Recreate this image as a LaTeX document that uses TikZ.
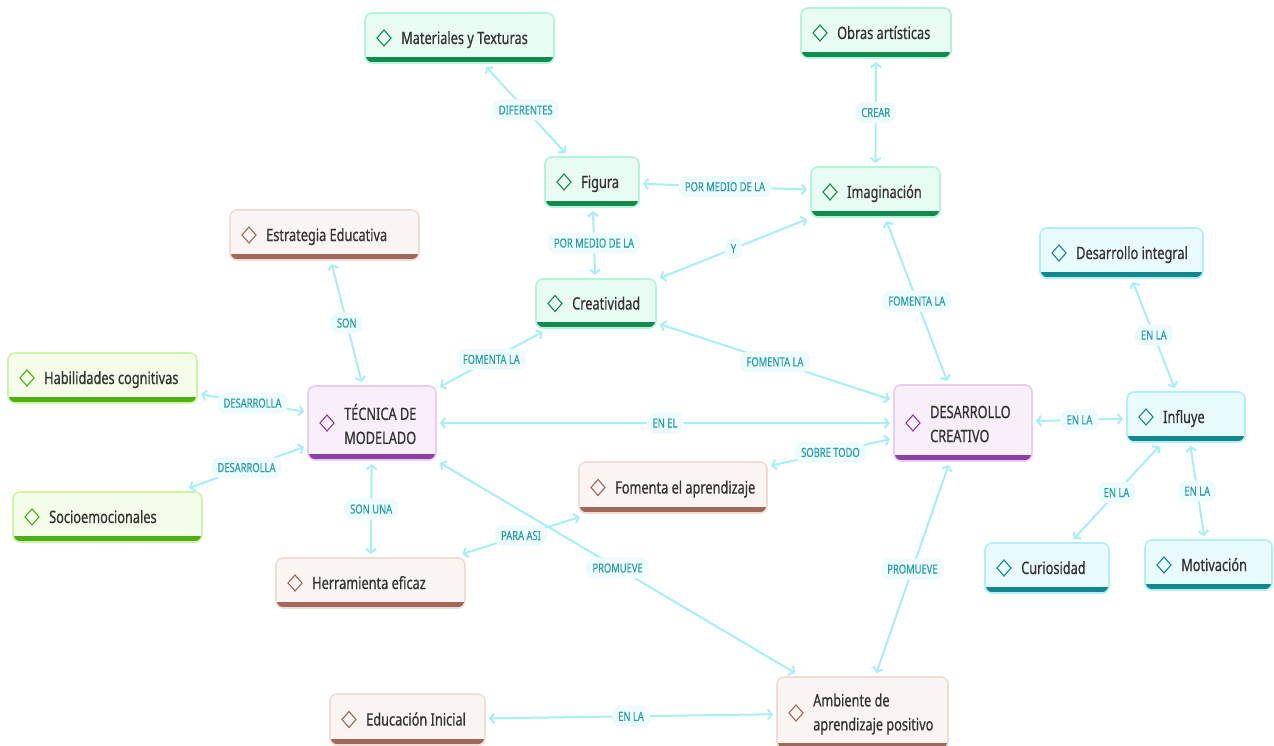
\documentclass[tikz,border=0pt]{standalone}
\usepackage{fontspec}
\usetikzlibrary{arrows.meta}
\newfontfamily\nf[FakeStretch=0.75,FakeBold=0.6]{Noto Sans}
\newfontfamily\lf[FakeStretch=0.75,FakeBold=0.3]{Noto Sans}
\definecolor{greenfill}{HTML}{E9FCF4}\definecolor{greenline}{HTML}{B3F5D8}\definecolor{greenbar}{HTML}{138A50}
\definecolor{brownfill}{HTML}{FAF5F2}\definecolor{brownline}{HTML}{EFDDD5}\definecolor{brownbar}{HTML}{A0675A}
\definecolor{limefill}{HTML}{F3FDEA}\definecolor{limeline}{HTML}{CCF5A8}\definecolor{limebar}{HTML}{52AE16}
\definecolor{purplefill}{HTML}{F8EFFA}\definecolor{purpleline}{HTML}{E7CDF0}\definecolor{purplebar}{HTML}{8E3FA6}
\definecolor{cyanfill}{HTML}{E9FAFC}\definecolor{cyanline}{HTML}{B2EEF6}\definecolor{cyanbar}{HTML}{13878F}
\definecolor{linec}{HTML}{A6EEF8}
\definecolor{lblfill}{HTML}{EDFBFD}
\definecolor{lbltext}{HTML}{2A9DA8}
\definecolor{txtc}{HTML}{333333}
\tikzset{
  boxnode/.style={inner sep=0pt, outer sep=4pt, rectangle},
  txt/.style={text=txtc, font=\nf\fontsize{17}{24}\selectfont, inner sep=0pt},
  lbl/.style={fill=lblfill, rounded corners=8pt, text=lbltext, font=\lf\fontsize{12.5}{14}\selectfont,
     inner xsep=6pt, inner ysep=6pt, text height=9pt, text depth=0pt},
  conn/.style={draw=linec, line width=2pt, {Straight Barb[length=4pt,width=10pt]}-{Straight Barb[length=4pt,width=10pt]}},
}
% name, x1, y1, x2, y2, scheme, text, multi-line flag
\newcommand\cmbox[8]{%
  \fill[#6fill, rounded corners=7pt] (#2,#3) rectangle (#4,#5);
  \begin{scope}
    \clip[rounded corners=7pt] (#2,#3) rectangle (#4,#5);
    \fill[#6bar] (#2,#5-6) rectangle (#4,#5);
  \end{scope}
  \draw[#6line, line width=1.6pt, rounded corners=7pt] (#2,#3) rectangle (#4,#5);
  \node[boxnode, minimum width=#4-#2, minimum height=#5-#3] (#1) at ({(#2+#4)/2},{(#3+#5)/2}) {};
  \draw[#6bar, line width=1.1pt, line join=miter] ({#2+19-7},{(#3+#5)/2}) -- ({#2+19},{(#3+#5)/2-8}) -- ({#2+19+7},{(#3+#5)/2}) -- ({#2+19},{(#3+#5)/2+8}) -- cycle;
  \ifx#8y
    \node[txt, anchor=west, align=left] at (#2+36,{(#3+#5)/2+1}) {#7};
  \else
    \node[txt, anchor=west, text height=12pt, text depth=0pt] at (#2+36,{(#3+#5)/2}) {#7};
  \fi
}
\begin{document}
\begin{tikzpicture}[x=1pt,y=-1pt]
\fill[white] (0,0) rectangle (1274,746);
\useasboundingbox (0,0) rectangle (1274,746);

\cmbox{mat}{365}{13}{554}{63}{green}{Materiales y Texturas}{n}
\cmbox{obr}{801}{8}{951}{58}{green}{Obras artísticas}{n}
\cmbox{fig}{545}{157}{639}{207}{green}{Figura}{n}
\cmbox{ima}{811}{167}{940}{217}{green}{Imaginación}{n}
\cmbox{est}{230}{210}{419}{260}{brown}{Estrategia Educativa}{n}
\cmbox{cre}{536}{279}{656}{328}{green}{Creatividad}{n}
\cmbox{hab}{8}{353}{197}{403}{lime}{Habilidades cognitivas}{n}
\cmbox{tec}{308}{386}{436}{460}{purple}{TÉCNICA DE\\MODELADO}{y}
\cmbox{des}{894}{385}{1032}{461}{purple}{DESARROLLO\\CREATIVO}{y}
\cmbox{inf}{1127}{392}{1245}{442}{cyan}{Influye}{n}
\cmbox{din}{1040}{228}{1203}{278}{cyan}{Desarrollo integral}{n}
\cmbox{soc}{13}{492}{202}{542}{lime}{Socioemocionales}{n}
\cmbox{fom}{579}{462}{767}{513}{brown}{Fomenta el aprendizaje}{n}
\cmbox{her}{276}{558}{465}{608}{brown}{Herramienta eficaz}{n}
\cmbox{cur}{985}{543}{1109}{593}{cyan}{Curiosidad}{n}
\cmbox{mot}{1145}{540}{1272}{590}{cyan}{Motivación}{n}
\cmbox{edu}{330}{694}{485}{745}{brown}{Educación Inicial}{n}
\cmbox{amb}{777}{677}{948}{749}{brown}{Ambiente de\\aprendizaje positivo}{y}

\draw[conn] (mat) -- node[lbl]{DIFERENTES} (fig);
\draw[conn] (obr) -- node[lbl]{CREAR} (ima);
\draw[conn] (fig) -- node[lbl]{POR MEDIO DE LA} (ima);
\draw[conn] (fig) -- node[lbl]{POR MEDIO DE LA} (cre);
\draw[conn] (cre) -- node[lbl]{Y} (ima);
\draw[conn] (ima) -- node[lbl]{FOMENTA LA} (des);
\draw[conn] (cre) -- node[lbl]{FOMENTA LA} (des);
\draw[conn] (tec) -- node[lbl]{FOMENTA LA} (cre);
\draw[conn] (est) -- node[lbl]{SON} (tec);
\draw[conn] (hab) -- node[lbl]{DESARROLLA} (tec);
\draw[conn] (soc) -- node[lbl]{DESARROLLA} (tec);
\draw[conn] (tec) -- node[lbl]{EN EL} (des);
\draw[conn] (tec) -- node[lbl]{SON UNA} (her);
\draw[conn] (her) -- node[lbl]{PARA ASI} (fom);
\draw[conn] (fom) -- node[lbl]{SOBRE TODO} (des);
\draw[conn] (tec) -- node[lbl]{PROMUEVE} (amb);
\draw[conn] (amb) -- node[lbl]{PROMUEVE} (des);
\draw[conn] (edu) -- node[lbl]{EN LA} (amb);
\draw[conn] (des) -- node[lbl]{EN LA} (inf);
\draw[conn] (din) -- node[lbl]{EN LA} (inf);
\draw[conn] (inf) -- node[lbl]{EN LA} (cur);
\draw[conn] (inf) -- node[lbl]{EN LA} (mot);
\end{tikzpicture}
\end{document}
